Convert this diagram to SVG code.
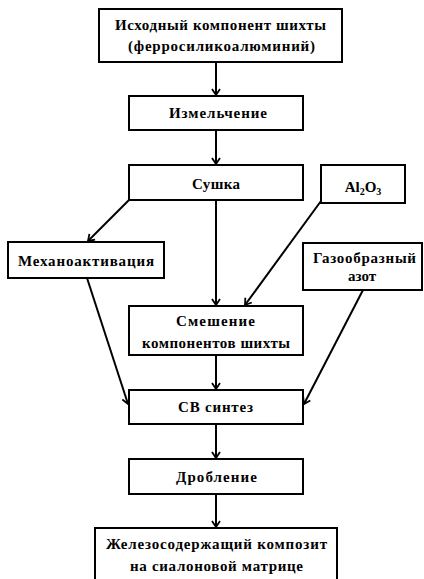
<svg xmlns="http://www.w3.org/2000/svg" width="424" height="579" viewBox="0 0 424 579">
<style>
.box{fill:#fff;stroke:#000;stroke-width:2}
.t{font-family:"Liberation Serif","Times New Roman","DejaVu Serif",serif;font-weight:bold;font-size:15px;fill:#000;text-anchor:middle}
.c{stroke:#000;stroke-width:2;fill:none;marker-end:url(#ah)}
</style>
<defs>
<marker id="ah" viewBox="-7 -5 8 10" markerWidth="8" markerHeight="10" refX="0" refY="0" orient="auto" markerUnits="userSpaceOnUse">
<path d="M-6,-4 L0,0 L-6,4" fill="none" stroke="#000" stroke-width="1.8"/>
</marker>
</defs>
<rect width="424" height="579" fill="#fff"/>
<g id="connectors">
<line class="c" x1="216" y1="62" x2="216" y2="95"/>
<line class="c" x1="216" y1="130" x2="216" y2="164"/>
<line class="c" x1="129" y1="200" x2="88" y2="241"/>
<line class="c" x1="216" y1="200" x2="216" y2="305"/>
<line class="c" x1="321" y1="201" x2="245" y2="305"/>
<line class="c" x1="87" y1="278" x2="128" y2="404"/>
<line class="c" x1="363" y1="290" x2="304" y2="404"/>
<line class="c" x1="216" y1="355" x2="216" y2="389"/>
<line class="c" x1="216" y1="424" x2="216" y2="458"/>
<line class="c" x1="216" y1="494" x2="216" y2="527"/>
</g>
<g id="n1">
<rect class="box" x="99" y="9" width="243" height="53"/>
<text class="t" x="220.5" y="30" textLength="211" lengthAdjust="spacing">Исходный компонент шихты</text>
<text class="t" x="221.5" y="51" textLength="187" lengthAdjust="spacing">(ферросиликоалюминий)</text>
</g>
<g id="n2">
<rect class="box" x="129" y="96" width="174" height="34"/>
<text class="t" x="218" y="117.5" textLength="98" lengthAdjust="spacing">Измельчение</text>
</g>
<g id="n3">
<rect class="box" x="129" y="165" width="174" height="35"/>
<text class="t" x="216" y="189" textLength="48" lengthAdjust="spacing">Сушка</text>
</g>
<g id="n4">
<rect class="box" x="321" y="165" width="84" height="38"/>
<text class="t" x="363" y="191.5">Al<tspan font-size="10" dy="3">2</tspan><tspan dy="-3">O</tspan><tspan font-size="10" dy="3">3</tspan></text>
</g>
<g id="n5">
<rect class="box" x="8" y="242" width="156" height="36"/>
<text class="t" x="86" y="265.5" textLength="136" lengthAdjust="spacing">Механоактивация</text>
</g>
<g id="n6">
<rect class="box" x="303" y="243" width="119" height="47"/>
<text class="t" x="364.5" y="262.5" textLength="103" lengthAdjust="spacing">Газообразный</text>
<text class="t" x="362" y="280.5">азот</text>
</g>
<g id="n7">
<rect class="box" x="129" y="306" width="174" height="49"/>
<text class="t" x="215.5" y="326" textLength="79" lengthAdjust="spacing">Смешение</text>
<text class="t" x="216" y="347.5" textLength="148" lengthAdjust="spacing">компонентов шихты</text>
</g>
<g id="n8">
<rect class="box" x="129" y="390" width="174" height="34"/>
<text class="t" x="215.5" y="411.5" textLength="75" lengthAdjust="spacing">СВ синтез</text>
</g>
<g id="n9">
<rect class="box" x="129" y="459" width="174" height="35"/>
<text class="t" x="216.5" y="481.5" textLength="81" lengthAdjust="spacing">Дробление</text>
</g>
<g id="n10">
<rect class="box" x="95" y="528" width="242" height="60"/>
<text class="t" x="216.5" y="549" textLength="221" lengthAdjust="spacing">Железосодержащий композит</text>
<text class="t" x="216.5" y="570.5" textLength="173" lengthAdjust="spacing">на сиалоновой матрице</text>
</g>
</svg>
